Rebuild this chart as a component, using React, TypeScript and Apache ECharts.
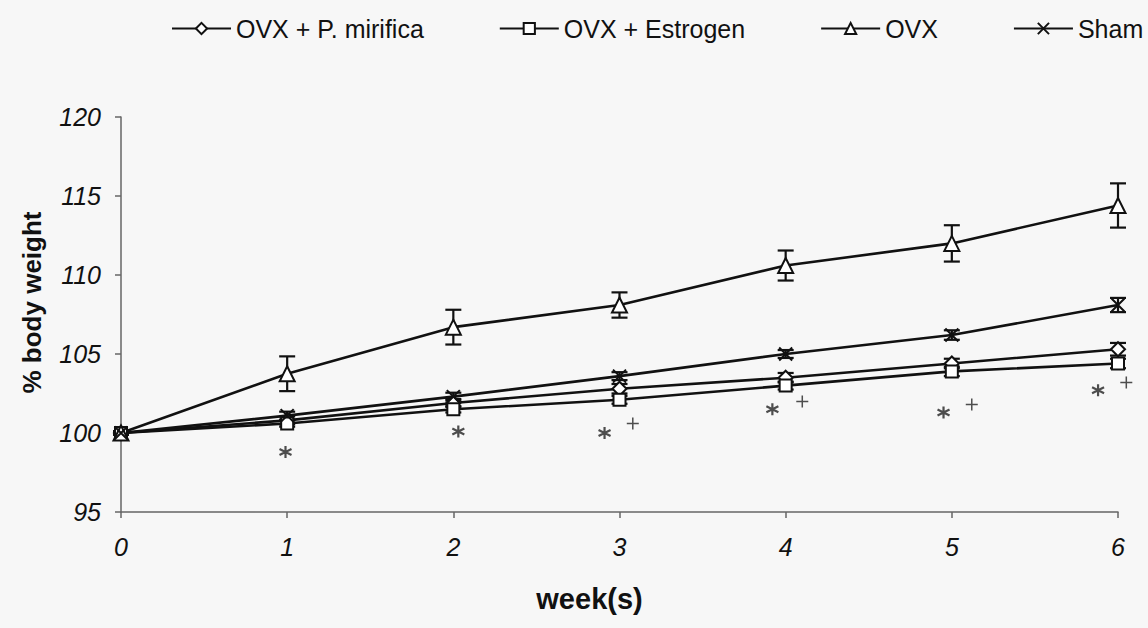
import React, { useEffect, useRef } from "react";
import * as echarts from "echarts";

const weeks = [0, 1, 2, 3, 4, 5, 6];
const seriesNames = ["OVX + P. mirifica", "OVX + Estrogen", "OVX", "Sham"];
const mirificaMean = [100, 100.8, 101.9, 102.8, 103.5, 104.4, 105.3];
const mirificaErr = [0.1, 0.25, 0.25, 0.3, 0.3, 0.3, 0.4];
const estrogenMean = [100, 100.6, 101.5, 102.1, 103.0, 103.9, 104.4];
const estrogenErr = [0.1, 0.2, 0.2, 0.25, 0.25, 0.3, 0.3];
const ovxMean = [100, 103.75, 106.7, 108.1, 110.6, 112.0, 114.4];
const ovxErr = [0.1, 1.1, 1.1, 0.8, 0.95, 1.15, 1.4];
const shamMean = [100, 101.1, 102.3, 103.6, 105.0, 106.2, 108.1];
const shamErr = [0.1, 0.25, 0.25, 0.25, 0.25, 0.3, 0.45];
// significance markers: [week position, % body weight position]
const starMarks = [[0.99, 98.8], [2.03, 100.1], [2.91, 100.0], [3.92, 101.5], [4.95, 101.3], [5.88, 102.7]];
const plusMarks = [[3.08, 100.6], [4.1, 102.0], [5.12, 101.8], [6.05, 103.2]];
const yTicks = { min: 95, max: 120, interval: 5 };
const xTicks = { min: 0, max: 6, interval: 1 };

const FONT = "'Liberation Sans', Arial, sans-serif";
const X_PATH = "path://M0,0L10,10M10,0L0,10";
const STAR_PATH = "path://M5,0L5,10M0.67,2.5L9.33,7.5M0.67,7.5L9.33,2.5";
const PLUS_PATH = "path://M5,0L5,10M0,5L10,5";

function errorSeries(mean: number[], err: number[]) {
  return {
    type: "custom",
    z: 1,
    silent: true,
    data: weeks.map((w, i) => [w, mean[i] - err[i], mean[i] + err[i]]),
    renderItem: (params: any, api: any) => {
      const lo = api.coord([api.value(0), api.value(1)]);
      const hi = api.coord([api.value(0), api.value(2)]);
      const hw = 8;
      const style = { stroke: "#111", lineWidth: 2.2 };
      return {
        type: "group",
        children: [
          { type: "line", shape: { x1: lo[0], y1: lo[1], x2: hi[0], y2: hi[1] }, style },
          { type: "line", shape: { x1: lo[0] - hw, y1: lo[1], x2: lo[0] + hw, y2: lo[1] }, style },
          { type: "line", shape: { x1: hi[0] - hw, y1: hi[1], x2: hi[0] + hw, y2: hi[1] }, style },
        ],
      };
    },
  };
}

function lineSeries(name: string, mean: number[], symbol: string, size: number) {
  return {
    name,
    type: "line",
    z: 3,
    data: weeks.map((w, i) => [w, mean[i]]),
    symbol,
    symbolSize: size,
    showAllSymbol: true,
    lineStyle: { color: "#111", width: 2.6 },
    itemStyle: { color: "#fff", borderColor: "#111", borderWidth: 2 },
  };
}

export default function App() {
  const ref = useRef<HTMLDivElement>(null);
  useEffect(() => {
    if (!ref.current) return;
    const chart = echarts.init(ref.current, undefined, { renderer: "svg" });
    chart.setOption({
      animation: false,
      backgroundColor: "#f7f7f7",
      legend: {
        left: 171,
        top: 16,
        width: 990,
        padding: 0,
        itemGap: 75,
        itemWidth: 59,
        itemHeight: 14,
        data: seriesNames,
        textStyle: { fontFamily: FONT, fontSize: 25, color: "#111" },
      },
      grid: { left: 121, right: 30, top: 117, bottom: 116 },
      xAxis: {
        type: "value",
        min: xTicks.min,
        max: xTicks.max,
        interval: xTicks.interval,
        name: "week(s)",
        nameLocation: "middle",
        nameGap: 72,
        nameTextStyle: {
          fontFamily: FONT,
          fontWeight: "bold",
          fontSize: 29,
          color: "#111",
          padding: [0, 60, 0, 0],
        },
        axisLine: { lineStyle: { color: "#666", width: 1.5 } },
        axisTick: { show: true, length: 6, lineStyle: { color: "#666", width: 1.5 } },
        axisLabel: { fontFamily: FONT, fontStyle: "italic", fontSize: 25, color: "#111", margin: 22 },
        splitLine: { show: false },
      },
      yAxis: {
        type: "value",
        min: yTicks.min,
        max: yTicks.max,
        interval: yTicks.interval,
        name: "% body weight",
        nameLocation: "middle",
        nameRotate: 90,
        nameGap: 76,
        nameTextStyle: {
          fontFamily: FONT,
          fontWeight: "bold",
          fontSize: 26,
          color: "#111",
          padding: [0, 0, 0, 24],
        },
        axisLine: { show: true, lineStyle: { color: "#666", width: 1.5 } },
        axisTick: { show: true, length: 6, lineStyle: { color: "#666", width: 1.5 } },
        axisLabel: { fontFamily: FONT, fontStyle: "italic", fontSize: 25, color: "#111", margin: 20 },
        splitLine: { show: false },
      },
      series: [
        errorSeries(mirificaMean, mirificaErr),
        errorSeries(estrogenMean, estrogenErr),
        errorSeries(ovxMean, ovxErr),
        errorSeries(shamMean, shamErr),
        lineSeries(seriesNames[0], mirificaMean, "diamond", 14),
        lineSeries(seriesNames[1], estrogenMean, "rect", 12),
        lineSeries(seriesNames[2], ovxMean, "triangle", 15),
        lineSeries(seriesNames[3], shamMean, X_PATH, 13),
        {
          type: "scatter",
          z: 4,
          silent: true,
          clip: false,
          data: starMarks,
          symbol: STAR_PATH,
          symbolSize: 12,
          itemStyle: { color: "none", borderColor: "#222", borderWidth: 2.2 },
        },
        {
          type: "scatter",
          z: 4,
          silent: true,
          clip: false,
          data: plusMarks,
          symbol: PLUS_PATH,
          symbolSize: 12,
          itemStyle: { color: "none", borderColor: "#222", borderWidth: 1.5 },
        },
      ],
    });
    return () => chart.dispose();
  }, []);
  return (
    <div
      ref={ref}
      style={{ position: "fixed", left: 0, top: 0, width: 1148, height: 628 }}
    />
  );
}
